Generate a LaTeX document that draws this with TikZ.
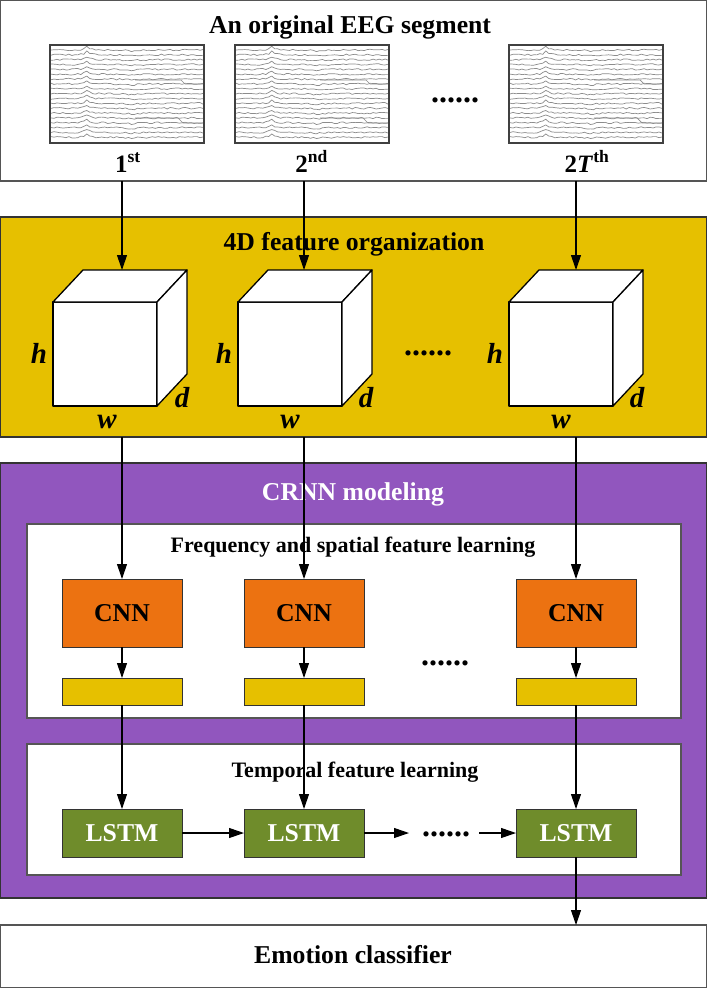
\documentclass[tikz,border=0pt]{standalone}
\usepackage{fontspec}
\setmainfont{Liberation Serif}
\usetikzlibrary{arrows.meta}

\definecolor{ygold}{HTML}{E6C000}
\definecolor{purp}{HTML}{9156BE}
\definecolor{orng}{HTML}{EC7211}
\definecolor{grn}{HTML}{6F8C2B}
\definecolor{bord}{HTML}{555555}
\definecolor{trace}{HTML}{8C8C8C}

\tikzset{
  arr/.style={line width=1.1pt, -{Triangle[length=15pt,width=10pt]}},
  panel/.style={draw=bord, line width=1.2pt, anchor=north west, inner sep=0pt, outer sep=0pt},
  ttl/.style={font=\bfseries\fontsize{25.7}{30}\selectfont, anchor=base, inner sep=0pt},
  sub/.style={font=\bfseries\fontsize{22}{26}\selectfont, anchor=base, inner sep=0pt},
  seglbl/.style={font=\bfseries\fontsize{25}{28}\selectfont, anchor=base, inner sep=0pt},
  dimlbl/.style={font=\bfseries\itshape\fontsize{29}{32}\selectfont, anchor=base, inner sep=0pt},
  dotsx/.style={font=\bfseries\fontsize{32}{34}\selectfont, anchor=base, inner sep=0pt},
  blk/.style={draw=black!80, line width=1pt, minimum width=120pt, inner sep=0pt, outer sep=0pt,
    font=\bfseries\fontsize{25.7}{30}\selectfont},
  cnnbox/.style={blk, fill=orng, minimum height=68pt},
  barbox/.style={blk, fill=ygold, minimum height=27pt},
  lstmbox/.style={blk, fill=grn, text=white, minimum height=48pt},
  cubeface/.style={draw=black, fill=white, line width=1.3pt, line join=round}
}

\newcommand\eegthumb[2]{%
  \pgfmathsetseed{11}%
  \begin{scope}[shift={(#1,#2)}]
    \fill[white] (0,0) rectangle (154,98);
    \foreach \i in {0,...,18} {
      \draw[trace, line width=0.7pt, line join=round] plot[domain=1:153, samples=52]
        (\x, {5+\i*4.85 + 0.8*rand - 3.5*exp(-abs(\x-37)/3) + 1.2*exp(-abs(\x-82)/6)});
    }
    \draw[trace, line width=0.7pt] (85,35) -- (131,35) -- (135,39) -- (153,39);
    \draw[trace, line width=0.7pt] (85,73) -- (128,73) -- (133,78) -- (153,78);
    \draw[black!75, line width=1.2pt] (0,0) rectangle (154,98);
  \end{scope}}

\newcommand\drawcube[2]{%
  \draw[cubeface] (#1,#2) rectangle ++(104,104);
  \draw[cubeface] (#1,#2) -- ++(30,-32) -- ++(104,0) -- ++(-30,32) -- cycle;
  \draw[cubeface] (#1+104,#2) -- ++(30,-32) -- ++(0,104) -- ++(-30,32) -- cycle;}

\begin{document}
\begin{tikzpicture}[x=1pt,y=-1pt]
\useasboundingbox (0,0) rectangle (707,988);

% panels
\node[panel, fill=white, minimum width=706pt, minimum height=180.5pt] (top) at (0.5,0.5) {};
\node[panel, draw=black!80, fill=ygold, minimum width=706pt, minimum height=220pt] (yel) at (0.5,217) {};
\node[panel, draw=black!80, fill=purp, minimum width=706pt, minimum height=435pt] (pur) at (0.5,463) {};
\node[panel, fill=white, minimum width=654pt, minimum height=194pt] (in1) at (27,524) {};
\node[panel, fill=white, minimum width=654pt, minimum height=131pt] (in2) at (27,744) {};
\node[panel, fill=white, minimum width=706pt, minimum height=62.5pt] (emo) at (0.5,925) {};

% titles
\node[ttl] (t1) at (350,33) {An original EEG segment};
\node[ttl] (t2) at (354,250) {4D feature organization};
\node[ttl, text=white] (t3) at (353,500) {CRNN modeling};
\node[sub] (t4) at (353,552) {Frequency and spatial feature learning};
\node[sub] (t5) at (355,777) {Temporal feature learning};
\node[ttl] (t6) at (353,963) {Emotion classifier};

% EEG thumbnails
\eegthumb{50}{45}
\eegthumb{235}{45}
\eegthumb{509}{45}
\node[dotsx] (d1) at (455,102) {......};
\node[seglbl] (s1) at (128,172) {1\textsuperscript{st}};
\node[seglbl] (s2) at (311.5,172) {2\textsuperscript{nd}};
\node[seglbl] (s3) at (587,172) {2\textit{T}\textsuperscript{th}};

% cubes
\drawcube{53}{302}
\drawcube{238}{302}
\drawcube{509}{302}
\coordinate (k1) at (122,270);
\coordinate (k2) at (304,270);
\coordinate (k3) at (576,270);
\node[dimlbl] (h1) at (39,363) {h};
\node[dimlbl] (h2) at (224,363) {h};
\node[dimlbl] (h3) at (495,363) {h};
\node[dimlbl] (dd1) at (182,407) {d};
\node[dimlbl] (dd2) at (366,407) {d};
\node[dimlbl] (dd3) at (637,407) {d};
\node[dimlbl] (w1) at (107,428) {w};
\node[dimlbl] (w2) at (290,428) {w};
\node[dimlbl] (w3) at (561,428) {w};
\node[dotsx] (d2) at (428,355) {......};

% CNN row
\node[cnnbox] (cnn1) at (122,613) {CNN};
\node[cnnbox] (cnn2) at (304,613) {CNN};
\node[cnnbox] (cnn3) at (576,613) {CNN};
\node[barbox] (bar1) at (122,691.5) {};
\node[barbox] (bar2) at (304,691.5) {};
\node[barbox] (bar3) at (576,691.5) {};
\node[dotsx] (d3) at (445,665) {......};

% LSTM row
\node[lstmbox] (ls1) at (122,833) {LSTM};
\node[lstmbox] (ls2) at (304,833) {LSTM};
\node[lstmbox] (ls3) at (576,833) {LSTM};
\node[dotsx] (d4) at (446,836) {......};
\coordinate (gL) at (409,833);
\coordinate (gR) at (479,833);

% connectors
\draw[arr] (k1 |- top.south) -- (k1);
\draw[arr] (k2 |- top.south) -- (k2);
\draw[arr] (k3 |- top.south) -- (k3);
\draw[arr] (cnn1 |- yel.south) -- (cnn1.north);
\draw[arr] (cnn2 |- yel.south) -- (cnn2.north);
\draw[arr] (cnn3 |- yel.south) -- (cnn3.north);
\draw[arr] (cnn1.south) -- (bar1.north);
\draw[arr] (cnn2.south) -- (bar2.north);
\draw[arr] (cnn3.south) -- (bar3.north);
\draw[arr] (bar1.south) -- (ls1.north);
\draw[arr] (bar2.south) -- (ls2.north);
\draw[arr] (bar3.south) -- (ls3.north);
\draw[arr] (ls1.east) -- (ls2.west);
\draw[arr] (ls2.east) -- (gL);
\draw[arr] (gR) -- (ls3.west);
\draw[arr] (ls3.south) -- (ls3.south |- emo.north);
\end{tikzpicture}
\end{document}
